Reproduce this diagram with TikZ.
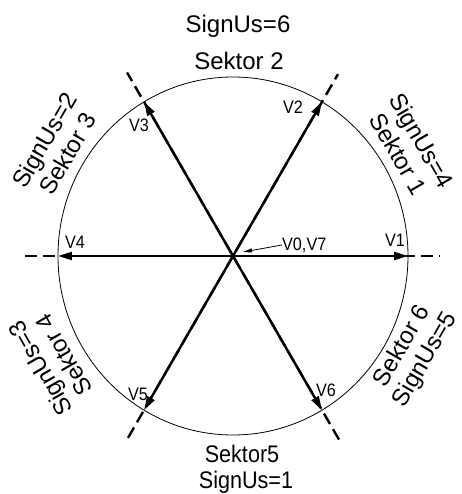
\documentclass[tikz,border=0pt]{standalone}
\usepackage{fontspec}
\setmainfont{Liberation Sans}
\usetikzlibrary{arrows.meta}
\begin{document}
\begin{tikzpicture}[x=1pt,y=1pt,
  big/.style={font=\fontsize{24}{28}\selectfont, inner sep=0pt},
  pair/.style={font=\fontsize{24}{27}\selectfont, inner sep=0pt, align=center},
  small/.style={font=\fontsize{18}{20}\selectfont, inner sep=0pt, xscale=0.9},
  axisline/.style={line width=2.4pt, dash pattern=on 12pt off 6pt},
  vec/.style={line width=2.4pt, -{Triangle[length=14pt,width=8pt]}},
  pointer/.style={line width=0.8pt, -{Triangle[length=9pt,width=4pt]}}]
\useasboundingbox (-233,-238) rectangle (228,256);
\coordinate (O) at (0,0);
% circle
\draw[line width=0.8pt] (O) ellipse [x radius=175, y radius=179];
% dashed axes
\coordinate (d1) at (207,0);   \coordinate (d4) at (-208,0);
\coordinate (d2) at (60:210);  \coordinate (d5) at (240:210);
\coordinate (d3) at (120:212); \coordinate (d6) at (300:212);
\draw[axisline] (d4) -- (d1);
\draw[axisline] (d5) -- (d2);
\draw[axisline] (d6) -- (d3);
% vector tips
\coordinate (t1) at (0:175);
\coordinate (t2) at (60:178);
\coordinate (t3) at (120:178);
\coordinate (t4) at (180:175);
\coordinate (t5) at (240:178);
\coordinate (t6) at (300:178);
\foreach \t in {t1,t2,t3,t4,t5,t6} \draw[vec] (O) -- (\t);
% vector labels
\node[small] (V1) at (162,16) {V1};
\node[small] (V2) at (60,149) {V2};
\node[small] (V3) at (-94,131) {V3};
\node[small] (V4) at (-158,14) {V4};
\node[small] (V5) at (-95,-138) {V5};
\node[small] (V6) at (93,-134) {V6};
\node[small, anchor=west] (V07) at (49,11) {V0,V7};
\coordinate (p0) at (10,4);
\draw[pointer] (V07.west) -- (p0);
% sector labels
\node[big, anchor=base] (s6) at (5,223) {SignUs=6};
\node[big, anchor=base] (k2) at (6,186) {Sektor 2};
\node[big, anchor=base, xscale=0.9] (k5) at (9,-206) {Sektor5};
\node[big, anchor=base, xscale=0.9] (s1) at (13,-232) {SignUs=1};
\node[pair, rotate=-60] (sec1) at (177,109) {SignUs=4\\Sektor 1};
\node[pair, rotate=60] (sec3) at (-177,109) {SignUs=2\\Sektor 3};
\node[pair, rotate=60] (sec6) at (181,-97) {Sektor 6\\SignUs=5};
\node[pair, rotate=120] (sec4) at (-181,-106) {SignUs=3\\Sektor 4};
\end{tikzpicture}
\end{document}
